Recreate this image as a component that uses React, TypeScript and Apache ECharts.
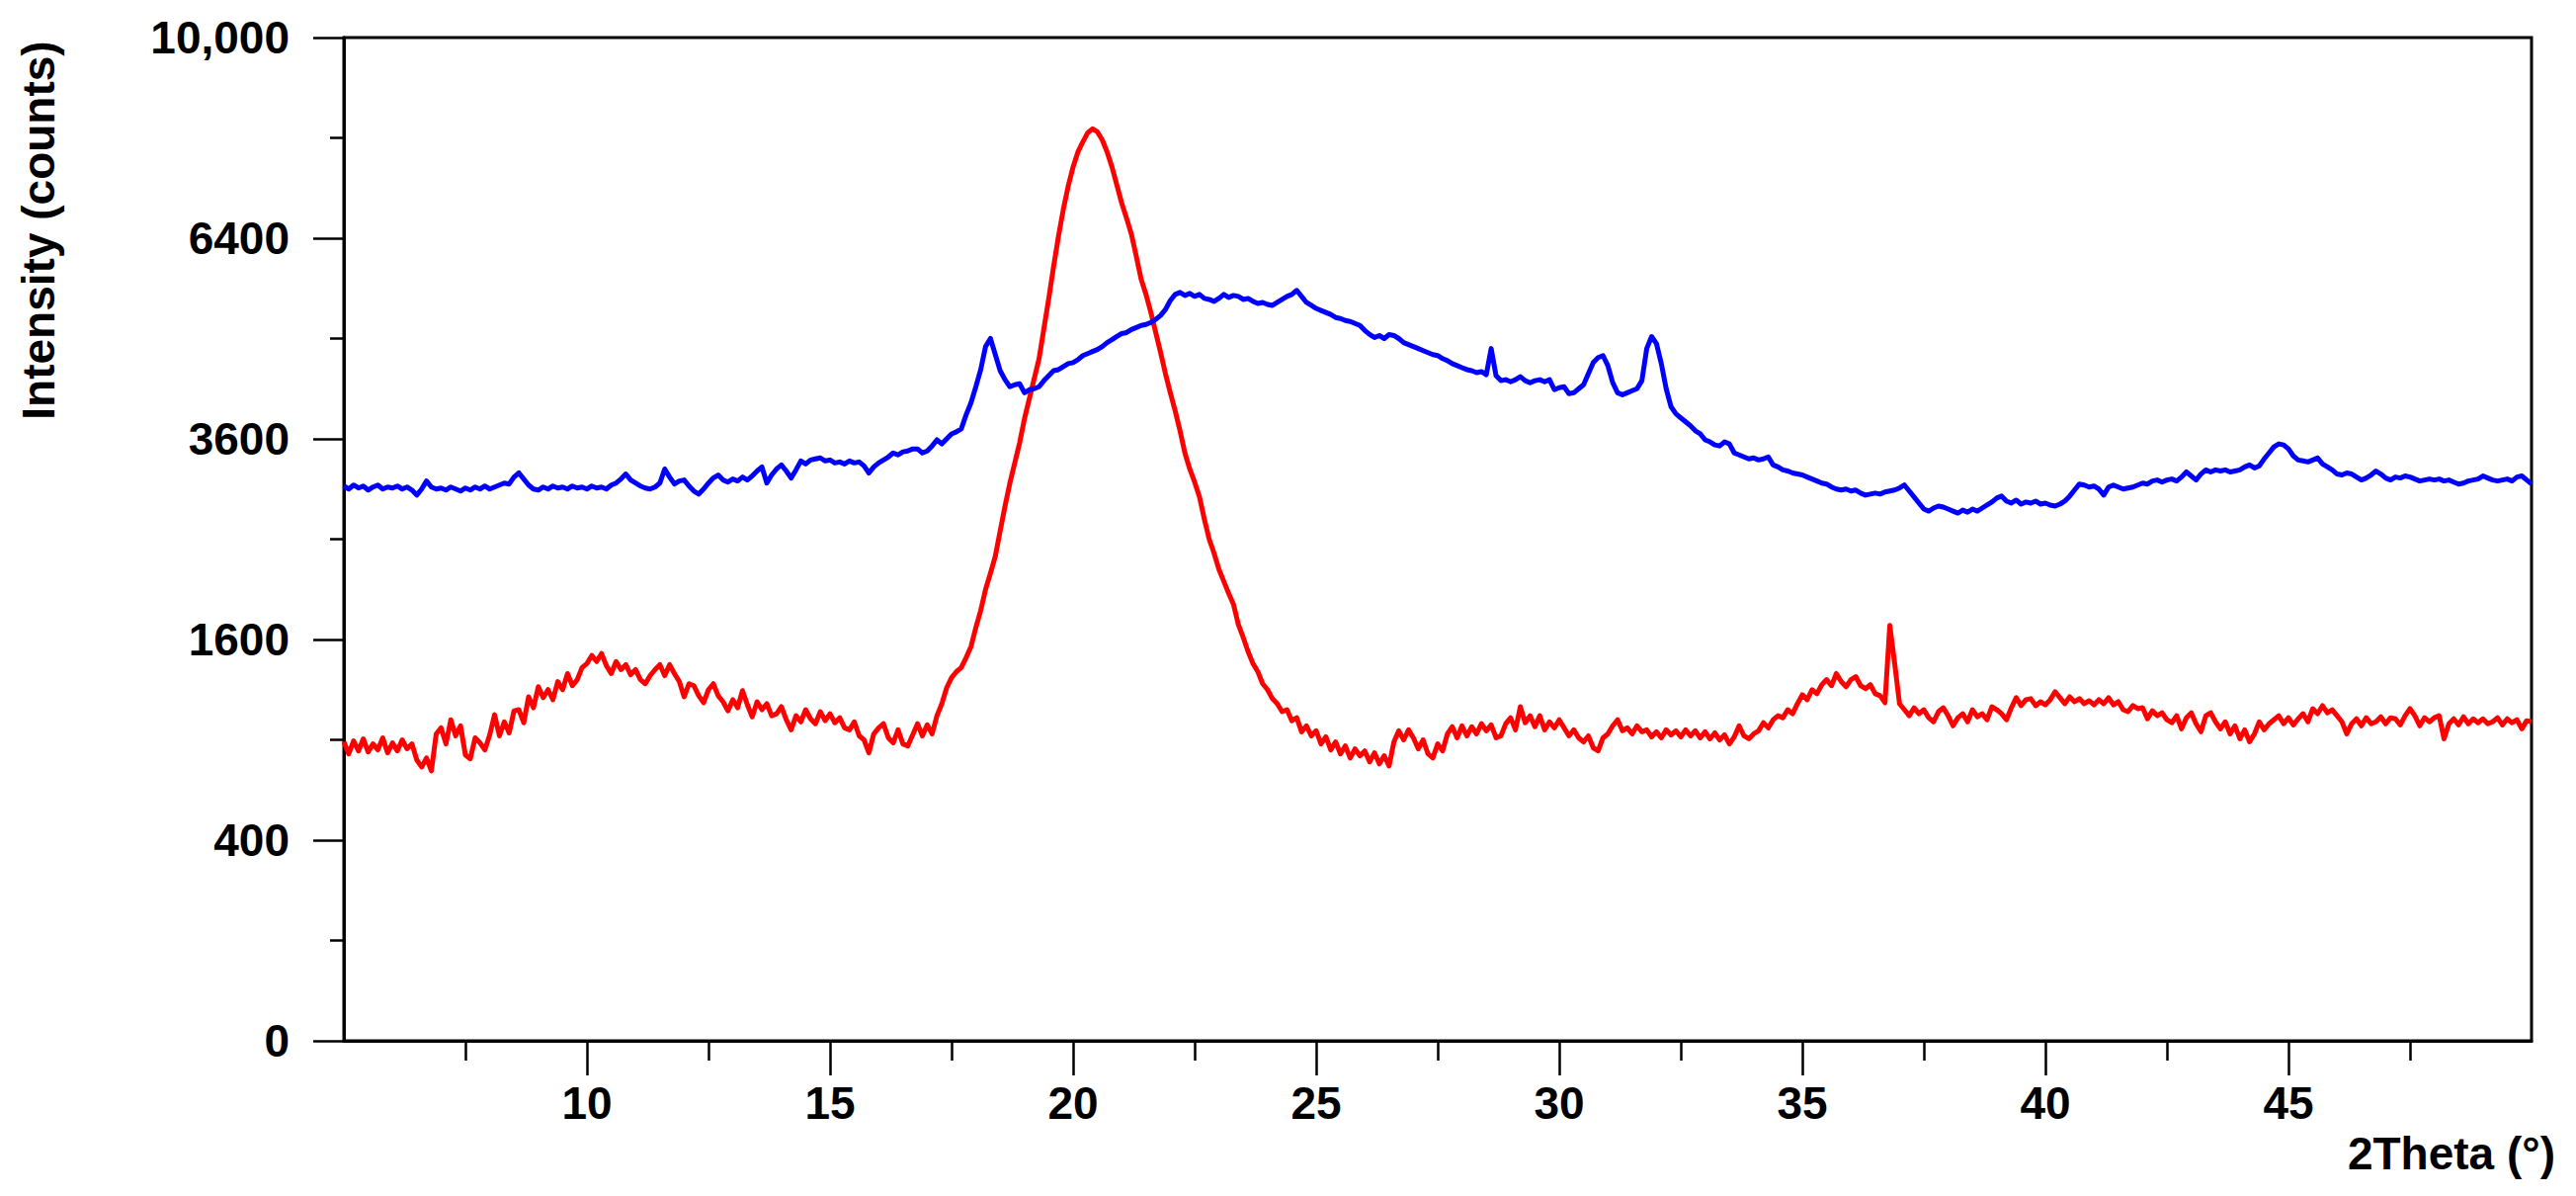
import React, { useEffect, useRef } from 'react';
import * as echarts from 'echarts';

// 2Theta positions (degrees) of the readings
const twoTheta = [
  5.0, 5.1, 5.2, 5.3, 5.4, 5.5, 5.6, 5.7, 5.8, 5.9,
  6.0, 6.1, 6.2, 6.3, 6.4, 6.5, 6.6, 6.7, 6.8, 6.9,
  7.0, 7.1, 7.2, 7.3, 7.4, 7.5, 7.6, 7.7, 7.8, 7.9,
  8.0, 8.1, 8.2, 8.3, 8.4, 8.5, 8.6, 8.7, 8.8, 8.9,
  9.0, 9.1, 9.2, 9.3, 9.4, 9.5, 9.6, 9.7, 9.8, 9.9,
  10.0, 10.1, 10.2, 10.3, 10.4, 10.5, 10.6, 10.7, 10.8, 10.9,
  11.0, 11.1, 11.2, 11.3, 11.4, 11.5, 11.6, 11.7, 11.8, 11.9,
  12.0, 12.1, 12.2, 12.3, 12.4, 12.5, 12.6, 12.7, 12.8, 12.9,
  13.0, 13.1, 13.2, 13.3, 13.4, 13.5, 13.6, 13.7, 13.8, 13.9,
  14.0, 14.1, 14.2, 14.3, 14.4, 14.5, 14.6, 14.7, 14.8, 14.9,
  15.0, 15.1, 15.2, 15.3, 15.4, 15.5, 15.6, 15.7, 15.8, 15.9,
  16.0, 16.1, 16.2, 16.3, 16.4, 16.5, 16.6, 16.7, 16.8, 16.9,
  17.0, 17.1, 17.2, 17.3, 17.4, 17.5, 17.6, 17.7, 17.8, 17.9,
  18.0, 18.1, 18.2, 18.3, 18.4, 18.5, 18.6, 18.7, 18.8, 18.9,
  19.0, 19.1, 19.2, 19.3, 19.4, 19.5, 19.6, 19.7, 19.8, 19.9,
  20.0, 20.1, 20.2, 20.3, 20.4, 20.5, 20.6, 20.7, 20.8, 20.9,
  21.0, 21.1, 21.2, 21.3, 21.4, 21.5, 21.6, 21.7, 21.8, 21.9,
  22.0, 22.1, 22.2, 22.3, 22.4, 22.5, 22.6, 22.7, 22.8, 22.9,
  23.0, 23.1, 23.2, 23.3, 23.4, 23.5, 23.6, 23.7, 23.8, 23.9,
  24.0, 24.1, 24.2, 24.3, 24.4, 24.5, 24.6, 24.7, 24.8, 24.9,
  25.0, 25.1, 25.2, 25.3, 25.4, 25.5, 25.6, 25.7, 25.8, 25.9,
  26.0, 26.1, 26.2, 26.3, 26.4, 26.5, 26.6, 26.7, 26.8, 26.9,
  27.0, 27.1, 27.2, 27.3, 27.4, 27.5, 27.6, 27.7, 27.8, 27.9,
  28.0, 28.1, 28.2, 28.3, 28.4, 28.5, 28.6, 28.7, 28.8, 28.9,
  29.0, 29.1, 29.2, 29.3, 29.4, 29.5, 29.6, 29.7, 29.8, 29.9,
  30.0, 30.1, 30.2, 30.3, 30.4, 30.5, 30.6, 30.7, 30.8, 30.9,
  31.0, 31.1, 31.2, 31.3, 31.4, 31.5, 31.6, 31.7, 31.8, 31.9,
  32.0, 32.1, 32.2, 32.3, 32.4, 32.5, 32.6, 32.7, 32.8, 32.9,
  33.0, 33.1, 33.2, 33.3, 33.4, 33.5, 33.6, 33.7, 33.8, 33.9,
  34.0, 34.1, 34.2, 34.3, 34.4, 34.5, 34.6, 34.7, 34.8, 34.9,
  35.0, 35.1, 35.2, 35.3, 35.4, 35.5, 35.6, 35.7, 35.8, 35.9,
  36.0, 36.1, 36.2, 36.3, 36.4, 36.5, 36.6, 36.7, 36.8, 36.9,
  37.0, 37.1, 37.2, 37.3, 37.4, 37.5, 37.6, 37.7, 37.8, 37.9,
  38.0, 38.1, 38.2, 38.3, 38.4, 38.5, 38.6, 38.7, 38.8, 38.9,
  39.0, 39.1, 39.2, 39.3, 39.4, 39.5, 39.6, 39.7, 39.8, 39.9,
  40.0, 40.1, 40.2, 40.3, 40.4, 40.5, 40.6, 40.7, 40.8, 40.9,
  41.0, 41.1, 41.2, 41.3, 41.4, 41.5, 41.6, 41.7, 41.8, 41.9,
  42.0, 42.1, 42.2, 42.3, 42.4, 42.5, 42.6, 42.7, 42.8, 42.9,
  43.0, 43.1, 43.2, 43.3, 43.4, 43.5, 43.6, 43.7, 43.8, 43.9,
  44.0, 44.1, 44.2, 44.3, 44.4, 44.5, 44.6, 44.7, 44.8, 44.9,
  45.0, 45.1, 45.2, 45.3, 45.4, 45.5, 45.6, 45.7, 45.8, 45.9,
  46.0, 46.1, 46.2, 46.3, 46.4, 46.5, 46.6, 46.7, 46.8, 46.9,
  47.0, 47.1, 47.2, 47.3, 47.4, 47.5, 47.6, 47.7, 47.8, 47.9,
  48.0, 48.1, 48.2, 48.3, 48.4, 48.5, 48.6, 48.7, 48.8, 48.9,
  49.0, 49.1, 49.2, 49.3, 49.4, 49.5, 49.6, 49.7, 49.8, 49.9, 50.0,
];

// Blue pattern, intensity (counts)
const blueCounts = [
  3058, 3025, 3069, 3036, 3058, 3014, 3047, 3069, 3025, 3047,
  3036, 3058, 3025, 3047, 3014, 2959, 3025, 3114, 3047, 3025,
  3036, 3014, 3047, 3025, 3003, 3036, 3014, 3047, 3025, 3058,
  3025, 3047, 3069, 3091, 3080, 3158, 3204, 3136, 3069, 3025,
  3014, 3047, 3025, 3058, 3036, 3047, 3025, 3058, 3036, 3047,
  3025, 3058, 3036, 3047, 3025, 3069, 3091, 3136, 3192, 3125,
  3091, 3058, 3036, 3025, 3047, 3091, 3249, 3158, 3080, 3114,
  3125, 3058, 3003, 2970, 3025, 3091, 3147, 3181, 3125, 3102,
  3136, 3114, 3158, 3125, 3170, 3226, 3272, 3091, 3181, 3249,
  3295, 3226, 3147, 3238, 3341, 3306, 3352, 3364, 3376, 3341,
  3352, 3318, 3329, 3306, 3341, 3318, 3329, 3283, 3204, 3272,
  3318, 3352, 3387, 3434, 3411, 3446, 3457, 3481, 3481, 3434,
  3457, 3516, 3588, 3540, 3600, 3660, 3684, 3721, 3894, 4045,
  4251, 4476, 4789, 4900, 4679, 4462, 4343, 4251, 4277, 4290,
  4173, 4212, 4225, 4251, 4330, 4396, 4462, 4476, 4516, 4556,
  4570, 4610, 4665, 4692, 4720, 4747, 4789, 4844, 4886, 4928,
  4970, 4984, 5027, 5055, 5084, 5098, 5127, 5170, 5227, 5314,
  5446, 5535, 5565, 5520, 5550, 5506, 5535, 5476, 5461, 5432,
  5476, 5535, 5491, 5520, 5506, 5461, 5476, 5432, 5402, 5417,
  5388, 5373, 5417, 5461, 5506, 5535, 5595, 5506, 5417, 5373,
  5329, 5300, 5271, 5242, 5198, 5184, 5155, 5141, 5112, 5084,
  5013, 4956, 4914, 4942, 4900, 4956, 4942, 4900, 4844, 4816,
  4789, 4761, 4733, 4706, 4679, 4665, 4624, 4597, 4556, 4529,
  4502, 4476, 4462, 4436, 4449, 4409, 4761, 4396, 4330, 4343,
  4316, 4343, 4382, 4330, 4303, 4330, 4343, 4316, 4343, 4212,
  4238, 4251, 4160, 4173, 4225, 4277, 4422, 4570, 4638, 4665,
  4529, 4303, 4173, 4147, 4173, 4199, 4225, 4330, 4761, 4928,
  4830, 4556, 4225, 3994, 3906, 3856, 3807, 3758, 3697, 3660,
  3588, 3564, 3528, 3516, 3564, 3540, 3434, 3411, 3387, 3364,
  3376, 3352, 3364, 3387, 3295, 3272, 3238, 3226, 3204, 3192,
  3181, 3158, 3136, 3114, 3091, 3080, 3047, 3025, 3014, 3025,
  3003, 3014, 2981, 2959, 2970, 2981, 2970, 2992, 3003, 3014,
  3036, 3069, 3003, 2938, 2873, 2809, 2788, 2820, 2841, 2830,
  2809, 2788, 2767, 2798, 2777, 2809, 2788, 2820, 2852, 2884,
  2927, 2948, 2894, 2873, 2905, 2862, 2884, 2873, 2894, 2862,
  2873, 2852, 2841, 2862, 2894, 2948, 3014, 3080, 3069, 3047,
  3058, 3025, 2959, 3047, 3069, 3047, 3025, 3036, 3047, 3069,
  3091, 3080, 3114, 3125, 3102, 3125, 3136, 3114, 3158, 3215,
  3170, 3125, 3192, 3238, 3215, 3238, 3226, 3238, 3215, 3226,
  3238, 3272, 3295, 3260, 3283, 3364, 3434, 3505, 3540, 3528,
  3481, 3399, 3352, 3341, 3329, 3352, 3376, 3306, 3272, 3238,
  3192, 3181, 3204, 3192, 3158, 3125, 3147, 3181, 3226, 3192,
  3147, 3125, 3158, 3147, 3170, 3158, 3136, 3114, 3125, 3136,
  3125, 3136, 3114, 3125, 3102, 3080, 3091, 3114, 3125, 3136,
  3170, 3147, 3125, 3114, 3125, 3136, 3114, 3158, 3170, 3125, 3080,
];

// Red pattern, intensity (counts)
const redCounts = [
  888, 818, 894, 835, 906, 829, 876, 841, 912, 824,
  882, 835, 900, 847, 876, 784, 745, 795, 724, 936,
  973, 876, 1024, 924, 986, 812, 790, 912, 882, 841,
  930, 1056, 924, 1011, 942, 1082, 1089, 1005, 1176, 1102,
  1246, 1170, 1225, 1156, 1282, 1225, 1340, 1253, 1296, 1384,
  1414, 1475, 1429, 1490, 1399, 1340, 1429, 1369, 1406, 1332,
  1369, 1296, 1267, 1325, 1369, 1406, 1325, 1406, 1340, 1282,
  1176, 1267, 1253, 1183, 1136, 1225, 1267, 1183, 1142, 1082,
  1156, 1102, 1218, 1122, 1043, 1142, 1089, 1129, 1050, 1063,
  1109, 1024, 961, 1050, 1011, 1089, 1030, 999, 1076, 1018,
  1063, 1005, 1037, 973, 961, 1011, 924, 900, 824, 936,
  973, 999, 912, 882, 961, 876, 864, 930, 999, 924,
  992, 936, 1050, 1129, 1239, 1310, 1354, 1384, 1459, 1544,
  1697, 1840, 2025, 2172, 2333, 2581, 2841, 3091, 3318, 3552,
  3844, 4096, 4356, 4624, 5041, 5476, 5960, 6432, 6872, 7259,
  7586, 7850, 8028, 8190, 8263, 8208, 8064, 7850, 7586, 7276,
  6972, 6724, 6464, 6115, 5761, 5535, 5271, 4984, 4706, 4422,
  4173, 3944, 3697, 3434, 3249, 3102, 2938, 2704, 2500, 2362,
  2209, 2098, 1989, 1892, 1722, 1616, 1505, 1414, 1354, 1267,
  1225, 1163, 1129, 1076, 1089, 1018, 1037, 949, 986, 924,
  955, 876, 918, 841, 888, 818, 864, 795, 847, 807,
  835, 773, 824, 762, 807, 751, 888, 955, 900, 961,
  912, 847, 900, 818, 795, 876, 835, 936, 980, 912,
  986, 924, 980, 936, 999, 955, 992, 912, 924, 999,
  1037, 961, 1109, 1005, 1050, 980, 1050, 961, 1011, 973,
  1024, 973, 924, 961, 912, 888, 924, 853, 835, 912,
  936, 986, 1024, 955, 973, 936, 986, 949, 961, 918,
  949, 912, 961, 930, 955, 918, 961, 924, 955, 912,
  949, 906, 942, 900, 930, 876, 918, 986, 924, 906,
  936, 955, 1005, 973, 1024, 1050, 1037, 1089, 1063, 1129,
  1190, 1156, 1225, 1197, 1260, 1296, 1253, 1340, 1282, 1246,
  1296, 1318, 1253, 1232, 1260, 1197, 1183, 1136, 1714, 1414,
  1129, 1089, 1050, 1102, 1063, 1089, 1037, 1011, 1076, 1102,
  1050, 986, 1037, 1063, 1011, 1089, 1043, 1063, 1024, 1109,
  1089, 1063, 1024, 1102, 1170, 1116, 1156, 1163, 1116, 1142,
  1122, 1156, 1211, 1170, 1129, 1176, 1142, 1163, 1129, 1149,
  1122, 1156, 1129, 1170, 1122, 1142, 1089, 1076, 1116, 1096,
  1102, 1030, 1082, 1050, 1069, 1024, 1005, 1050, 967, 1037,
  1069, 999, 949, 1050, 1069, 1011, 967, 1011, 936, 986,
  906, 961, 888, 936, 1011, 961, 999, 1024, 1050, 999,
  1037, 992, 1030, 1063, 1011, 1096, 1063, 1116, 1069, 1089,
  1050, 1011, 936, 999, 1030, 986, 1037, 999, 1011, 1043,
  999, 1037, 1030, 992, 1050, 1096, 1050, 986, 1037, 1011,
  1037, 1050, 906, 999, 1030, 992, 1043, 999, 1030, 1005,
  1030, 999, 1011, 1037, 992, 1030, 1005, 1024, 967, 1018, 1011,
];

// Axis ticks
const xTickValues = [10, 15, 20, 25, 30, 35, 40, 45];
const yTickCounts = [0, 400, 1600, 3600, 6400, 10000];
const yTickLabels = ['0', '400', '1600', '3600', '6400', '10,000'];

const X_TITLE = '2Theta (°)';
const Y_TITLE = 'Intensity (counts)';

export default function App() {
  const ref = useRef<HTMLDivElement>(null);

  useEffect(() => {
    if (!ref.current) return;
    const chart = echarts.init(ref.current, null, { renderer: 'svg' });
    const font = "'Liberation Sans', Arial, Helvetica, sans-serif";
    // square-root intensity scale: plot sqrt(counts) on a linear axis
    const toPairs = (counts: number[]) =>
      twoTheta.map((t, i) => [t, Math.sqrt(counts[i])]);
    const yRoots = yTickCounts.map((c) => Math.sqrt(c));
    const labelStyle = {
      color: '#000',
      fontSize: 46,
      fontWeight: 'bold',
      fontFamily: font,
    };

    chart.setOption({
      animation: false,
      backgroundColor: '#ffffff',
      grid: {
        left: 348,
        right: 45,
        top: 38,
        bottom: 157,
        show: true,
        borderColor: '#000',
        borderWidth: 3,
        backgroundColor: 'transparent',
        containLabel: false,
        outerBoundsMode: 'none',
      },
      xAxis: {
        type: 'value',
        min: 5,
        max: 50,
        interval: 5,
        axisLine: { show: true, onZero: false, lineStyle: { color: '#000', width: 3 } },
        axisTick: {
          show: true,
          inside: false,
          length: 35,
          customValues: xTickValues,
          lineStyle: { color: '#000', width: 2.5 },
        },
        minorTick: {
          show: true,
          splitNumber: 2,
          length: 20,
          lineStyle: { color: '#000', width: 2.5 },
        },
        axisLabel: {
          ...labelStyle,
          margin: 40,
          customValues: xTickValues,
        },
        splitLine: { show: false },
        minorSplitLine: { show: false },
      },
      yAxis: {
        type: 'value',
        min: 0,
        max: 100,
        interval: 20,
        axisLine: { show: true, onZero: false, lineStyle: { color: '#000', width: 3 } },
        axisTick: {
          show: true,
          inside: false,
          length: 31,
          lineStyle: { color: '#000', width: 2.5 },
        },
        minorTick: {
          show: true,
          splitNumber: 2,
          length: 14,
          lineStyle: { color: '#000', width: 2.5 },
        },
        axisLabel: {
          ...labelStyle,
          margin: 55,
          formatter: (v: number) => {
            const idx = yRoots.findIndex((r) => Math.abs(r - v) < 1e-6);
            return idx >= 0 ? yTickLabels[idx] : '';
          },
        },
        splitLine: { show: false },
        minorSplitLine: { show: false },
      },
      graphic: [
        {
          type: 'text',
          x: 39,
          y: 233,
          rotation: Math.PI / 2,
          silent: true,
          style: {
            text: Y_TITLE,
            fill: '#000',
            fontSize: 46,
            fontWeight: 'bold',
            fontFamily: font,
            align: 'center',
            verticalAlign: 'middle',
            textAlign: 'center',
            textVerticalAlign: 'middle',
          },
        },
        {
          type: 'text',
          x: 2586,
          y: 1167,
          silent: true,
          style: {
            text: X_TITLE,
            fill: '#000',
            fontSize: 46,
            fontWeight: 'bold',
            fontFamily: font,
            align: 'right',
            verticalAlign: 'middle',
            textAlign: 'right',
            textVerticalAlign: 'middle',
          },
        },
      ],
      series: [
        {
          name: 'red',
          type: 'line',
          data: toPairs(redCounts),
          showSymbol: false,
          symbol: 'none',
          silent: true,
          z: 2,
          lineStyle: { color: '#ff0000', width: 5, join: 'round' },
          itemStyle: { color: '#ff0000' },
        },
        {
          name: 'blue',
          type: 'line',
          data: toPairs(blueCounts),
          showSymbol: false,
          symbol: 'none',
          silent: true,
          z: 3,
          lineStyle: { color: '#0000ff', width: 5, join: 'round' },
          itemStyle: { color: '#0000ff' },
        },
      ],
    });

    return () => {
      chart.dispose();
    };
  }, []);

  return (
    <div
      ref={ref}
      style={{
        position: 'absolute',
        left: 0,
        top: 0,
        width: 2607,
        height: 1210,
        background: '#ffffff',
      }}
    />
  );
}
